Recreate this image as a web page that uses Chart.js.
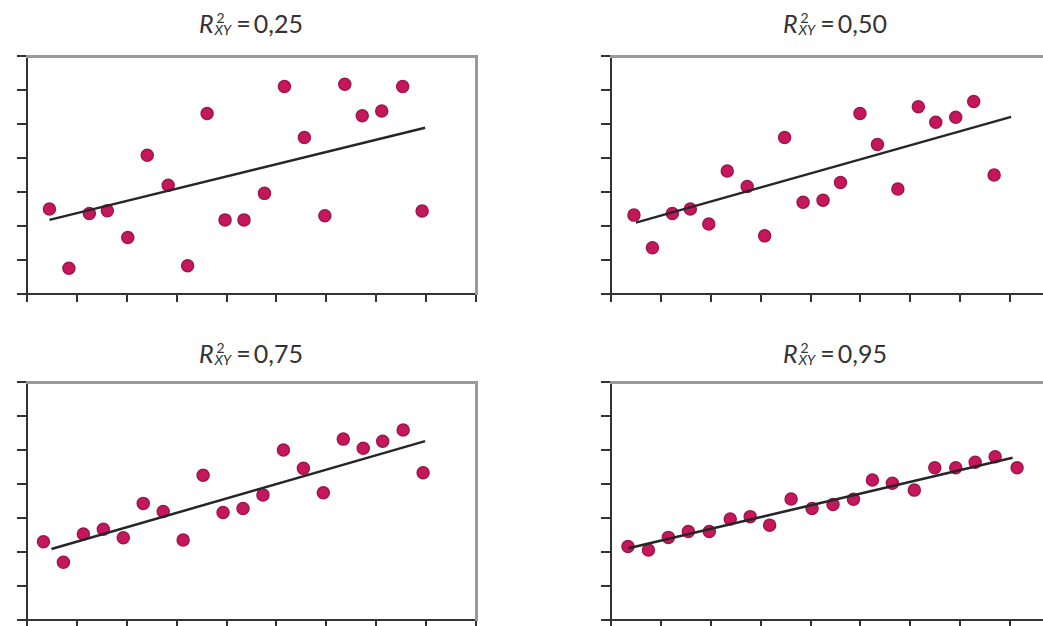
<!DOCTYPE html>
<html>
<head>
<meta charset="utf-8">
<script src="https://cdn.jsdelivr.net/npm/chart.js@4"></script>
<style>
  html, body { margin: 0; padding: 0; background: #fff; }
  body { width: 1043px; height: 626px; overflow: hidden; position: relative; font-family: Lato, "Open Sans", sans-serif; }
  .panel { position: absolute; width: 500px; height: 266px; }
  .title { position: absolute; width: 300px; text-align: center; font-size: 25px; color: #333; line-height: 1; white-space: nowrap; }
  .title i { font-style: italic; }
  .ss { display: inline-flex; flex-direction: column; vertical-align: 10px; font-size: 14px; line-height: 12px; margin-right: 5px; margin-left: 1px; }
  .ss .sup { text-align: left; padding-left: 2px; }
  .ss .sub { font-style: italic; }
</style>
</head>
<body>

<script>
// R² labels, one per panel
const r2Labels = ["0,25", "0,50", "0,75", "0,95"];

// x ticks 0..9, y ticks 0..7
const xTicks = [0, 1, 2, 3, 4, 5, 6, 7, 8, 9];
const yTicks = [0, 1, 2, 3, 4, 5, 6, 7];

// R² = 0,25
const x25 = [0.45, 0.84, 1.25, 1.61, 2.02, 2.41, 2.83, 3.22, 3.61, 3.97, 4.35, 4.76, 5.16, 5.56, 5.97, 6.37, 6.72, 7.11, 7.53, 7.92];
const y25 = [2.50, 0.76, 2.37, 2.45, 1.66, 4.08, 3.20, 0.83, 5.31, 2.18, 2.18, 2.96, 6.10, 4.60, 2.30, 6.17, 5.24, 5.38, 6.10, 2.44];
const trendX25 = [0.45, 7.98];
const trendY25 = [2.18, 4.89];

// R² = 0,50
const x50 = [0.46, 0.83, 1.23, 1.59, 1.96, 2.33, 2.73, 3.08, 3.48, 3.85, 4.25, 4.60, 4.99, 5.34, 5.75, 6.16, 6.51, 6.91, 7.27, 7.68];
const y50 = [2.32, 1.36, 2.37, 2.50, 2.06, 3.62, 3.16, 1.71, 4.60, 2.70, 2.76, 3.28, 5.31, 4.40, 3.09, 5.51, 5.05, 5.20, 5.66, 3.50];
const trendX50 = [0.50, 8.02];
const trendY50 = [2.10, 5.21];

// R² = 0,75
const x75 = [0.33, 0.73, 1.13, 1.53, 1.93, 2.33, 2.73, 3.13, 3.53, 3.93, 4.33, 4.73, 5.14, 5.54, 5.94, 6.34, 6.74, 7.13, 7.54, 7.94];
const y75 = [2.30, 1.70, 2.53, 2.67, 2.42, 3.43, 3.19, 2.35, 4.26, 3.16, 3.28, 3.68, 5.00, 4.46, 3.74, 5.32, 5.05, 5.26, 5.59, 4.33];
const trendX75 = [0.49, 7.98];
const trendY75 = [2.09, 5.26];

// R² = 0,95
const x95 = [0.34, 0.75, 1.15, 1.55, 1.97, 2.39, 2.79, 3.18, 3.61, 4.03, 4.45, 4.86, 5.24, 5.64, 6.08, 6.49, 6.91, 7.30, 7.70, 8.14];
const y95 = [2.16, 2.06, 2.43, 2.60, 2.60, 2.97, 3.04, 2.79, 3.56, 3.28, 3.40, 3.55, 4.12, 4.02, 3.82, 4.48, 4.48, 4.64, 4.80, 4.48];
const trendX95 = [0.35, 8.05];
const trendY95 = [2.11, 4.77];

const panels = [
  { label: r2Labels[0], xs: x25, ys: y25, tx: trendX25, ty: trendY25, left: 0,   top: 44,  titleLeft: 101, titleTop: 11 },
  { label: r2Labels[1], xs: x50, ys: y50, tx: trendX50, ty: trendY50, left: 584, top: 44,  titleLeft: 685, titleTop: 11 },
  { label: r2Labels[2], xs: x75, ys: y75, tx: trendX75, ty: trendY75, left: 0,   top: 370, titleLeft: 101, titleTop: 341 },
  { label: r2Labels[3], xs: x95, ys: y95, tx: trendX95, ty: trendY95, left: 584, top: 370, titleLeft: 685, titleTop: 341 },
];

const toPoints = (xs, ys) => xs.map((x, i) => ({ x, y: ys[i] }));

panels.forEach((p) => {
  // title: R², subscript XY
  const t = document.createElement("div");
  t.className = "title";
  t.style.left = p.titleLeft + "px";
  t.style.top = p.titleTop + "px";
  t.innerHTML = '<i>R</i><span class="ss"><span class="sup">2</span><span class="sub">XY</span></span>=&thinsp;' + p.label;
  document.body.appendChild(t);

  const wrap = document.createElement("div");
  wrap.className = "panel";
  wrap.style.left = p.left + "px";
  wrap.style.top = p.top + "px";
  const canvas = document.createElement("canvas");
  canvas.width = 500;
  canvas.height = 266;
  wrap.appendChild(canvas);
  document.body.appendChild(wrap);

  new Chart(canvas.getContext("2d"), {
    type: "scatter",
    data: {
      datasets: [
        {
          // trend line, drawn over the points
          data: toPoints(p.tx, p.ty),
          showLine: true,
          borderColor: "#262626",
          borderWidth: 2.5,
          pointRadius: 0,
          order: 0,
        },
        {
          data: toPoints(p.xs, p.ys),
          backgroundColor: "#c6165c",
          borderColor: "#9e174c",
          borderWidth: 1.5,
          pointRadius: 6,
          pointHoverRadius: 6,
          order: 1,
        },
      ],
    },
    options: {
      responsive: false,
      animation: false,
      devicePixelRatio: 1,
      layout: { autoPadding: false, padding: { top: 12, left: 17, right: 24, bottom: 8 } },
      plugins: { legend: { display: false }, tooltip: { enabled: false } },
      scales: {
        x: {
          type: "linear",
          min: xTicks[0],
          max: xTicks[xTicks.length - 1],
          afterBuildTicks: (s) => { s.ticks = xTicks.map((v) => ({ value: v })); },
          ticks: { display: false },
          grid: { drawOnChartArea: false, drawTicks: true, tickLength: 8, color: "#333", lineWidth: 2 },
          border: { color: "#333", width: 2 },
        },
        y: {
          type: "linear",
          min: yTicks[0],
          max: yTicks[yTicks.length - 1],
          afterBuildTicks: (s) => { s.ticks = yTicks.map((v) => ({ value: v })); },
          ticks: { display: false },
          grid: { drawOnChartArea: false, drawTicks: true, tickLength: 10, color: "#333", lineWidth: 2 },
          border: { color: "#333", width: 2 },
        },
        // grey frame on top and right
        xTop: {
          type: "linear",
          position: "top",
          min: 0, max: 1,
          ticks: { display: false },
          grid: { display: false, drawTicks: false, tickLength: 0 },
          border: { color: "#9a9a9a", width: 3 },
        },
        yRight: {
          type: "linear",
          position: "right",
          min: 0, max: 1,
          ticks: { display: false },
          grid: { display: false, drawTicks: false, tickLength: 0 },
          border: { color: "#9a9a9a", width: 3 },
        },
      },
    },
  });
});
</script>
</body>
</html>
